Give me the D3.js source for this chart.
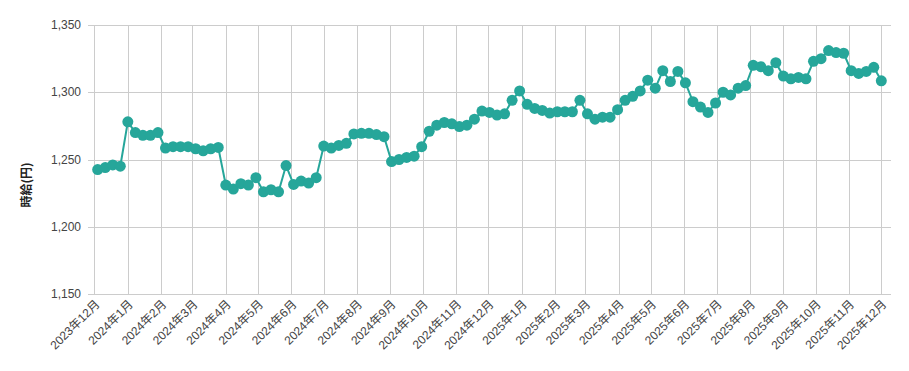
<!DOCTYPE html>
<html><head><meta charset="utf-8">
<script src="https://cdn.jsdelivr.net/npm/d3@7"></script>
<style>
html,body{margin:0;padding:0;background:#fff;}
svg{display:block;font-family:"Liberation Sans",Arial,"Noto Sans CJK JP",sans-serif;}
</style></head>
<body><svg id="c" width="909" height="371"></svg>
<script>
const dates = [
"2023-12-04","2023-12-11","2023-12-18","2023-12-25",
"2024-01-01","2024-01-08","2024-01-15","2024-01-22","2024-01-29",
"2024-02-05","2024-02-12","2024-02-19","2024-02-26",
"2024-03-04","2024-03-11","2024-03-18","2024-03-25",
"2024-04-01","2024-04-08","2024-04-15","2024-04-22","2024-04-29",
"2024-05-06","2024-05-13","2024-05-20","2024-05-27",
"2024-06-03","2024-06-10","2024-06-17","2024-06-24",
"2024-07-01","2024-07-08","2024-07-15","2024-07-22","2024-07-29",
"2024-08-05","2024-08-12","2024-08-19","2024-08-26",
"2024-09-02","2024-09-09","2024-09-16","2024-09-23","2024-09-30",
"2024-10-07","2024-10-14","2024-10-21","2024-10-28",
"2024-11-04","2024-11-11","2024-11-18","2024-11-25",
"2024-12-02","2024-12-09","2024-12-16","2024-12-23","2024-12-30",
"2025-01-06","2025-01-13","2025-01-20","2025-01-27",
"2025-02-03","2025-02-10","2025-02-17","2025-02-24",
"2025-03-03","2025-03-10","2025-03-17","2025-03-24","2025-03-31",
"2025-04-07","2025-04-14","2025-04-21","2025-04-28",
"2025-05-05","2025-05-12","2025-05-19","2025-05-26",
"2025-06-02","2025-06-09","2025-06-16","2025-06-23","2025-06-30",
"2025-07-07","2025-07-14","2025-07-21","2025-07-28",
"2025-08-04","2025-08-11","2025-08-18","2025-08-25",
"2025-09-01","2025-09-08","2025-09-15","2025-09-22","2025-09-29",
"2025-10-06","2025-10-13","2025-10-20","2025-10-27",
"2025-11-03","2025-11-10","2025-11-17","2025-11-24",
"2025-12-01"];
const wages = [
1242.5,1244,1246,1245,
1278,1270,1268,1268,1270,
1258.5,1259.5,1259.5,1259.5,
1258,1256.5,1258,1259,
1231,1228,1232,1231,1236.5,
1226,1227.5,1226,1245.5,
1231.5,1234,1232.5,1236.5,
1260,1258.5,1260.5,1262,1269,
1269.5,1269.5,1268.5,1267,
1248.5,1250,1251.5,1252.5,1259.5,
1271,1275.5,1277.5,1276.5,
1274.5,1275.5,1280,1286,
1285,1283,1284,1294,1301,
1291,1288,1286.5,1284.5,
1285.5,1285.5,1285.5,1294,
1284,1280,1281.5,1281.5,1287,
1294,1297,1301,1309,
1303,1316,1308,1315.5,
1307,1293,1289,1285,1292,
1300,1298,1303,1305,
1320,1319,1316,1322,
1312,1310,1311,1310,1323,
1325,1331,1329.5,1329,
1316,1314,1315.5,1318.5,
1308.5];
const monthTicks = ["2023-12-01","2024-01-01","2024-02-01","2024-03-01","2024-04-01","2024-05-01","2024-06-01","2024-07-01","2024-08-01","2024-09-01","2024-10-01","2024-11-01","2024-12-01","2025-01-01","2025-02-01","2025-03-01","2025-04-01","2025-05-01","2025-06-01","2025-07-01","2025-08-01","2025-09-01","2025-10-01","2025-11-01","2025-12-01"];
const yTicks = [1150,1200,1250,1300,1350];
const yTitle = "時給(円)";

const parse = d3.utcParse("%Y-%m-%d");
const data = dates.map((d,i)=>({date:parse(d), v:wages[i]}));
const ticks = monthTicks.map(parse);

const svg = d3.select("#c");
const L = 88, R = 891, T = 25, B = 294;
const x = d3.scaleUtc()
  .domain([d3.utcDay.offset(data[0].date,-9), d3.utcDay.offset(data[data.length-1].date,9.6)])
  .range([L,R]);
const y = d3.scaleLinear().domain([1150,1350]).range([B,T]);
const fmt = d3.format(",");
const textColor = "#444";

// horizontal grid
svg.append("g").selectAll("line").data(yTicks).join("line")
  .attr("x1",L).attr("x2",R)
  .attr("y1",d=>Math.round(y(d))+0.5).attr("y2",d=>Math.round(y(d))+0.5)
  .attr("stroke","#ccc").attr("stroke-width",1);
// vertical grid
svg.append("g").selectAll("line").data(ticks).join("line")
  .attr("x1",d=>Math.round(x(d))+0.5).attr("x2",d=>Math.round(x(d))+0.5)
  .attr("y1",T).attr("y2",B)
  .attr("stroke","#ccc").attr("stroke-width",1);

// y labels
svg.append("g").selectAll("text").data(yTicks).join("text")
  .attr("x",L-7).attr("y",d=>y(d)+4)
  .attr("text-anchor","end").attr("font-size",12).attr("fill",textColor)
  .text(d=>fmt(d));

// x labels
svg.append("g").selectAll("text").data(ticks).join("text")
  .attr("transform",d=>`translate(${x(d)+6},${B+11}) rotate(-45)`)
  .attr("text-anchor","end").attr("font-size",12).attr("fill",textColor)
  .text(d=>`${d.getUTCFullYear()}年${d.getUTCMonth()+1}月`);

// y title
svg.append("text")
  .attr("transform",`translate(31,185) rotate(-90)`)
  .attr("text-anchor","middle").attr("font-size",12).attr("font-weight","bold")
  .attr("fill","#222")
  .attr("font-family","'Noto Sans CJK JP',sans-serif")
  .text(yTitle);

const col = "#26a69a";
svg.append("path").datum(data)
  .attr("d",d3.line().x(d=>x(d.date)).y(d=>y(d.v)))
  .attr("fill","none").attr("stroke",col).attr("stroke-width",2);
svg.append("g").selectAll("circle").data(data).join("circle")
  .attr("cx",d=>x(d.date)).attr("cy",d=>y(d.v)).attr("r",5.5).attr("fill",col);
</script></body></html>
